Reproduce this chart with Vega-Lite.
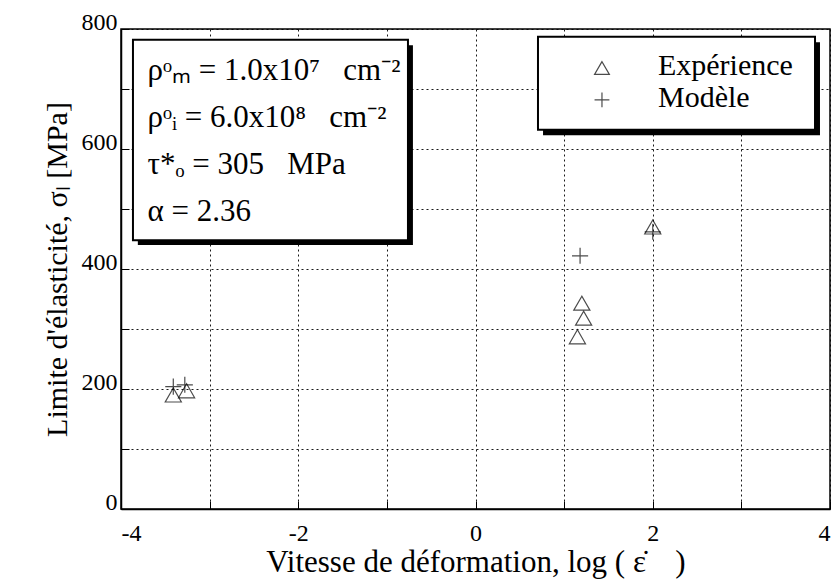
{
  "$schema": "https://vega.github.io/schema/vega-lite/v6.json",
  "width": 709,
  "height": 480,
  "autosize": "none",
  "padding": {"left": 121, "top": 29, "right": 8, "bottom": 73},
  "background": "white",
  "config": {
    "font": "Liberation Serif",
    "view": {"stroke": "black", "strokeWidth": 1.5},
    "axis": {
      "domainColor": "black",
      "domainWidth": 1.5,
      "gridColor": "black",
      "gridDash": [2, 3],
      "gridWidth": 1,
      "gridOpacity": 0.9,
      "tickColor": "black",
      "tickSize": -8,
      "tickWidth": 1,
      "labelColor": "black",
      "labelFont": "Liberation Serif",
      "labelFontSize": 24,
      "titleColor": "black",
      "titleFont": "Liberation Serif",
      "titleFontSize": 30,
      "titleFontWeight": "normal"
    }
  },
  "datasets": {
    "points": [
      {"serie": "Expérience", "logRate": -3.41, "sigma": 190},
      {"serie": "Expérience", "logRate": -3.26, "sigma": 197},
      {"serie": "Expérience", "logRate": 1.15, "sigma": 287},
      {"serie": "Expérience", "logRate": 1.22, "sigma": 318},
      {"serie": "Expérience", "logRate": 1.2, "sigma": 343},
      {"serie": "Expérience", "logRate": 2.0, "sigma": 470},
      {"serie": "Modèle", "logRate": -3.41, "sigma": 204},
      {"serie": "Modèle", "logRate": -3.28, "sigma": 207},
      {"serie": "Modèle", "logRate": 1.18, "sigma": 422},
      {"serie": "Modèle", "logRate": 2.0, "sigma": 462}
    ],
    "boxes": [
      {"box": "parametres", "x1": -3.865, "x2": -0.762, "y1": 448, "y2": 782},
      {"box": "legende", "x1": 0.705, "x2": 3.831, "y1": 632, "y2": 787}
    ],
    "shadows": [
      {"box": "parametres", "x1": -3.81, "x2": -0.706, "y1": 440, "y2": 773},
      {"box": "legende", "x1": 0.762, "x2": 3.887, "y1": 623, "y2": 778}
    ],
    "params": [
      {"label": "ρᵒₘ = 1.0x10⁷\u2002 cm⁻²", "x": -3.7, "y": 715},
      {"label": "ρᵒᵢ = 6.0x10⁸\u2002 cm⁻²", "x": -3.7, "y": 637},
      {"label": "τ*ₒ = 305\u2002 MPa", "x": -3.7, "y": 558},
      {"label": "α = 2.36", "x": -3.7, "y": 480}
    ],
    "legendEntries": [
      {"serie": "Expérience", "symX": 1.427, "symY": 735, "labX": 2.059, "labY": 723},
      {"serie": "Modèle", "symX": 1.427, "symY": 682, "labX": 2.059, "labY": 670}
    ]
  },
  "layer": [
    {
      "data": {"name": "points"},
      "mark": {"type": "point", "filled": false, "stroke": "black", "strokeWidth": 1.2, "size": 260},
      "encoding": {
        "x": {
          "field": "logRate",
          "type": "quantitative",
          "scale": {"domain": [-4, 4], "nice": false, "zero": false},
          "axis": {
            "title": "Vitesse de déformation, log ( ε̇\u2002\u2009 )",
            "values": [-4, -3, -2, -1, 0, 1, 2, 3, 4],
            "labelExpr": "datum.value % 2 == 0 ? '' + datum.value : ''",
            "labelPadding": 20,
            "labelBaseline": "top",
            "titlePadding": 2,
            "titleFontSize": 31,
            "grid": true
          }
        },
        "y": {
          "field": "sigma",
          "type": "quantitative",
          "scale": {"domain": [0, 800], "nice": false},
          "axis": {
            "title": "Limite d'élasticité, σₗ [MPa]",
            "values": [0, 100, 200, 300, 400, 500, 600, 700, 800],
            "labelExpr": "datum.value % 200 == 0 ? '' + datum.value : ''",
            "labelPadding": 12,
            "labelBaseline": "alphabetic",
            "titlePadding": 9,
            "grid": true
          }
        },
        "shape": {
          "field": "serie",
          "type": "nominal",
          "scale": {"domain": ["Expérience", "Modèle"], "range": ["triangle-up", "M-1,0H1M0,-1V1"]},
          "legend": null
        }
      }
    },
    {
      "data": {"name": "shadows"},
      "mark": {"type": "rect", "fill": "black"},
      "encoding": {
        "x": {"field": "x1", "type": "quantitative"},
        "x2": {"field": "x2"},
        "y": {"field": "y1", "type": "quantitative"},
        "y2": {"field": "y2"}
      }
    },
    {
      "data": {"name": "boxes"},
      "mark": {"type": "rect", "fill": "white", "stroke": "black", "strokeWidth": 2},
      "encoding": {
        "x": {"field": "x1", "type": "quantitative"},
        "x2": {"field": "x2"},
        "y": {"field": "y1", "type": "quantitative"},
        "y2": {"field": "y2"}
      }
    },
    {
      "data": {"name": "params"},
      "mark": {"type": "text", "align": "left", "baseline": "alphabetic", "fontSize": 31, "font": "Liberation Serif", "color": "black"},
      "encoding": {
        "x": {"field": "x", "type": "quantitative"},
        "y": {"field": "y", "type": "quantitative"},
        "text": {"field": "label"}
      }
    },
    {
      "data": {"name": "legendEntries"},
      "mark": {"type": "point", "filled": false, "stroke": "black", "strokeWidth": 1.2, "size": 220},
      "encoding": {
        "x": {"field": "symX", "type": "quantitative"},
        "y": {"field": "symY", "type": "quantitative"},
        "shape": {"field": "serie", "type": "nominal", "legend": null}
      }
    },
    {
      "data": {"name": "legendEntries"},
      "mark": {"type": "text", "align": "left", "baseline": "alphabetic", "fontSize": 30, "font": "Liberation Serif", "color": "black"},
      "encoding": {
        "x": {"field": "labX", "type": "quantitative"},
        "y": {"field": "labY", "type": "quantitative"},
        "text": {"field": "serie"}
      }
    }
  ]
}
